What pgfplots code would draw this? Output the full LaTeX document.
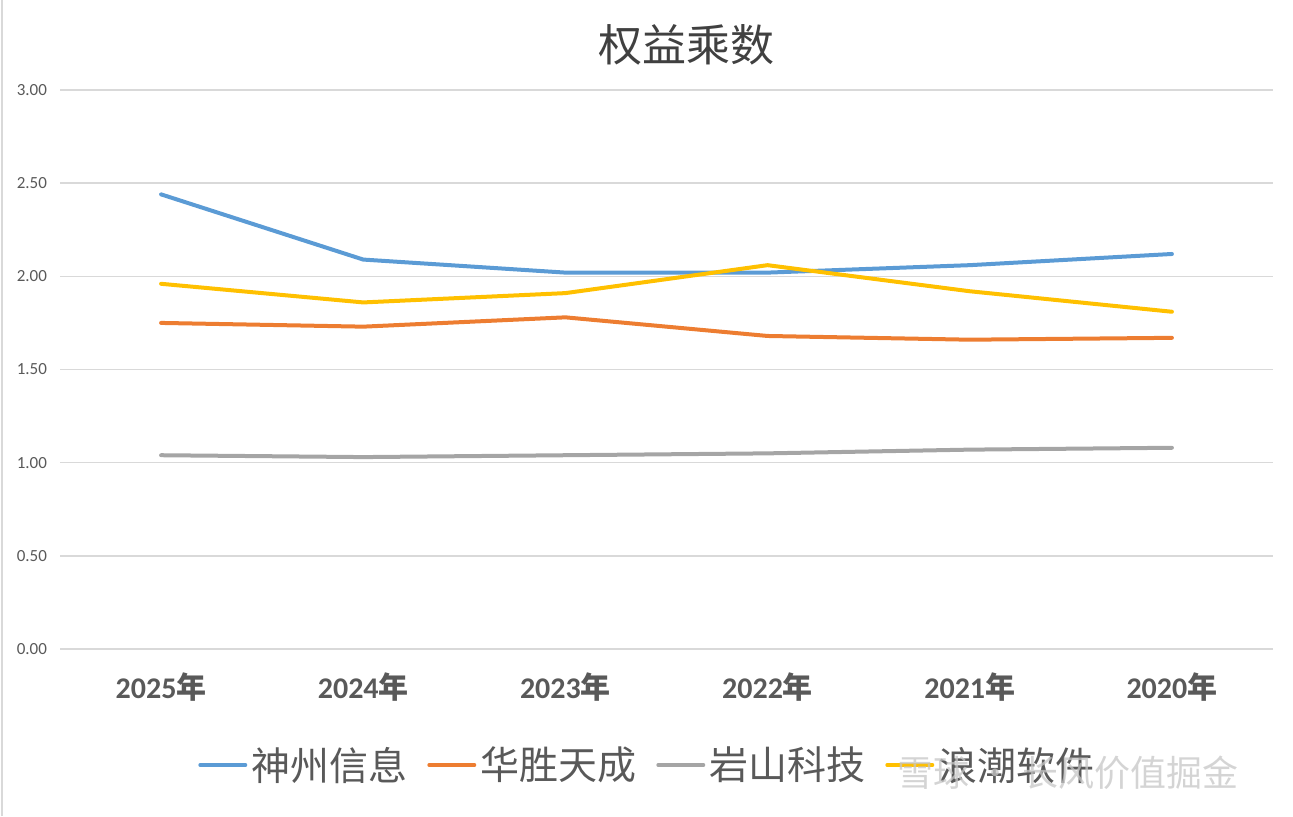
\documentclass[border=0pt]{standalone}
\usepackage{pgfplots}
\pgfplotsset{compat=1.18}
\usepackage{fontspec}
\setmainfont{Carlito}
\newfontfamily\cjk{Noto Sans CJK SC}
\definecolor{cblue}{HTML}{5B9BD5}
\definecolor{corange}{HTML}{ED7D31}
\definecolor{cgray}{HTML}{A5A5A5}
\definecolor{cyellow}{HTML}{FFC000}
\definecolor{txt}{HTML}{595959}
\definecolor{gridc}{HTML}{D9D9D9}
\begin{document}
\begin{tikzpicture}
\begin{axis}[
  at={(0,0)}, anchor=south west,
  scale only axis, width=606.5pt, height=279.5pt,
  xmin=-0.5, xmax=5.5, ymin=0, ymax=3,
  xtick={0,1,2,3,4,5},
  xticklabels={2025{\cjk 年},2024{\cjk 年},2023{\cjk 年},2022{\cjk 年},2021{\cjk 年},2020{\cjk 年}},
  xticklabel style={font=\fontsize{15}{15}\selectfont\bfseries, text=txt, yshift=-8.5pt},
  ytick={0,0.5,1,1.5,2,2.5,3},
  yticklabel style={font=\fontsize{8.5}{8.5}\selectfont, text=txt, xshift=-3pt},
  /pgf/number format/assume math mode=true,
  /pgf/number format/.cd, fixed, fixed zerofill, precision=2, /pgfplots/.cd,
  ymajorgrids, grid style={gridc, line width=0.75pt},
  axis line style={draw=none},
  major tick length=0pt,
  legend columns=4,
  legend style={at={(0.485,-0.2075)}, anchor=center, draw=none, fill=none,
    font=\fontsize{19.5}{19.5}\selectfont\cjk, text=txt,
    /tikz/every even column/.append style={column sep=8pt}},
  legend image code/.code={\draw[#1, line width=2pt] (0pt,0pt) -- (22.5pt,0pt);},
  every axis plot/.append style={line width=2pt, line join=round, line cap=round},
]
\addplot[cblue, mark=none] coordinates {(0,2.44) (1,2.09) (2,2.02) (3,2.02) (4,2.06) (5,2.12)};
\addlegendentry{神州信息}
\addplot[corange, mark=none] coordinates {(0,1.75) (1,1.73) (2,1.78) (3,1.68) (4,1.66) (5,1.67)};
\addlegendentry{华胜天成}
\addplot[cgray, mark=none] coordinates {(0,1.04) (1,1.03) (2,1.04) (3,1.05) (4,1.07) (5,1.08)};
\addlegendentry{岩山科技}
\addplot[cyellow, mark=none] coordinates {(0,1.96) (1,1.86) (2,1.91) (3,2.06) (4,1.92) (5,1.81)};
\addlegendentry{浪潮软件}
\end{axis}
\path[use as bounding box] (-30pt,-83.5pt) rectangle (616.5pt,324.5pt);
\draw[gridc, line width=1pt] (-29pt,-83.5pt) -- (-29pt,324.5pt);
\node[font=\fontsize{22}{22}\selectfont\cjk, text=black!75] at (313pt,302pt) {权益乘数};
\node[font=\fontsize{18}{18}\selectfont\cjk, text=gray!45, opacity=0.75] at (504pt,-62pt) {雪球 · 长风价值掘金};
\end{tikzpicture}
\end{document}
